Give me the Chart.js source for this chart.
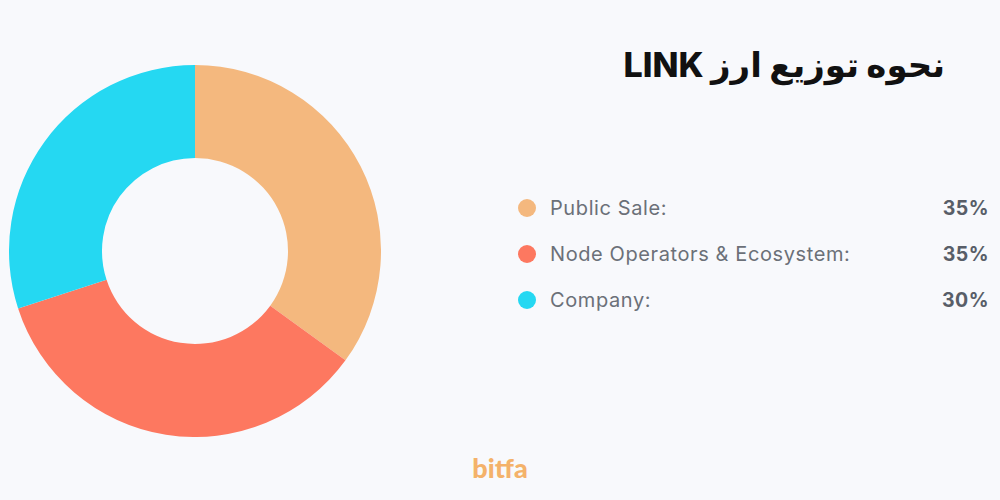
<!DOCTYPE html>
<html lang="fa">
<head>
<meta charset="utf-8">
<script src="https://cdn.jsdelivr.net/npm/chart.js@4/dist/chart.umd.min.js"></script>
<style>
  html, body { margin: 0; padding: 0; }
  body { width: 1000px; height: 500px; background: #f8f9fc; position: relative; overflow: hidden; font-family: Inter, "Noto Sans", sans-serif; }
  #wrap { position: absolute; left: 9px; top: 65px; width: 372px; height: 372px; }
  #title { position: absolute; right: 55px; top: 44px; direction: rtl; font-family: Inter, "DejaVu Sans", sans-serif; font-weight: 800; font-size: 34px; color: #111; white-space: nowrap; }
  #legend { position: absolute; left: 518px; top: 185px; width: 471px; }
  .row { position: relative; height: 46px; display: flex; align-items: center; }
  .dot { width: 18px; height: 18px; border-radius: 50%; margin-right: 14px; }
  .lab { color: #6b7078; font-size: 20px; letter-spacing: 0.6px; }
  .val { position: absolute; right: 0; color: #585e68; font-size: 19.5px; font-weight: 700; letter-spacing: 0.5px; }
  #logo { position: absolute; left: 0; width: 1000px; top: 451px; text-align: center; font-family: Lato, sans-serif; font-weight: 900; font-size: 27px; color: #f4b26a; }
</style>
</head>
<body>
<div id="title">نحوه توزیع ارز LINK</div>
<div id="wrap"><canvas id="donut"></canvas></div>
<div id="legend"></div>
<div id="logo">bitfa</div>
<script>
// Données du graphique
const categories = ['Public Sale:', 'Node Operators & Ecosystem:', 'Company:'];
const valeurs = [35, 35, 30];
const couleurs = ['#f4b87e', '#fd7860', '#25d8f2'];

// Légende à droite
const legend = document.getElementById('legend');
categories.forEach((cat, i) => {
  const row = document.createElement('div');
  row.className = 'row';
  row.innerHTML = '<span class="dot" style="background:' + couleurs[i] + '"></span>' +
    '<span class="lab">' + cat + '</span>' +
    '<span class="val">' + valeurs[i] + '%</span>';
  legend.appendChild(row);
});

// Doughnut
new Chart(document.getElementById('donut'), {
  type: 'doughnut',
  data: {
    labels: categories,
    datasets: [{
      data: valeurs,
      backgroundColor: couleurs,
      borderWidth: 0,
      hoverOffset: 0,
      offset: 0
    }]
  },
  options: {
    responsive: true,
    maintainAspectRatio: false,
    animation: false,
    cutout: '50%',
    layout: { padding: 0 },
    plugins: { legend: { display: false }, tooltip: { enabled: false } }
  }
});
</script>
</body>
</html>
